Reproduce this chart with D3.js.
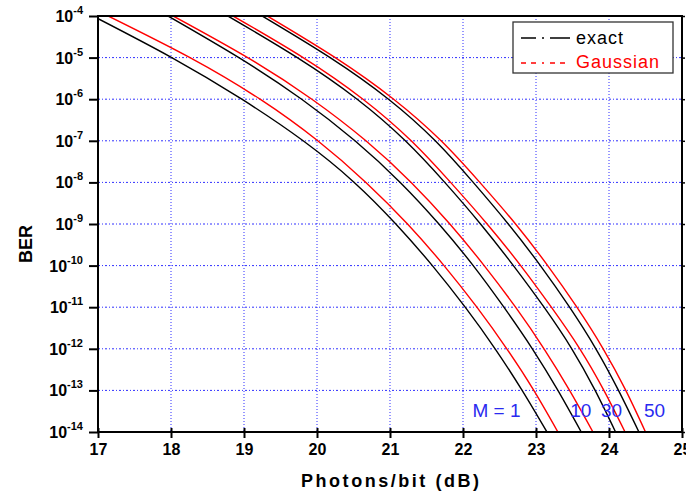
<!DOCTYPE html>
<html>
<head>
<meta charset="utf-8">
<script src="https://cdn.jsdelivr.net/npm/d3@7"></script>
<style>
  body { margin: 0; background: #fff; }
  text { font-family: Arial, "Liberation Sans", sans-serif; }
</style>
</head>
<body>
<div id="main-chart"></div>
<script>
// log10(BER) at each decade line
var berExp = [-4, -5, -6, -7, -8, -9, -10, -11, -12, -13, -14];

// Photons/bit (dB) where each curve crosses the decades above
var exactM1 = [16.93, 18.01, 18.97, 19.81, 20.51, 21.08, 21.58, 22.03, 22.44, 22.81, 23.15];
var gaussM1 = [17.14, 18.26, 19.22, 20.01, 20.67, 21.24, 21.74, 22.19, 22.6, 22.97, 23.3];
var exactM10 = [17.96, 18.93, 19.79, 20.52, 21.14, 21.67, 22.14, 22.56, 22.95, 23.3, 23.62];
var gaussM10 = [18.03, 19.05, 19.93, 20.67, 21.29, 21.82, 22.29, 22.72, 23.11, 23.46, 23.78];
var exactM30 = [18.78, 19.73, 20.55, 21.21, 21.75, 22.24, 22.69, 23.11, 23.49, 23.81, 24.09];
var gaussM30 = [18.85, 19.81, 20.63, 21.29, 21.83, 22.33, 22.79, 23.21, 23.6, 23.93, 24.22];
var exactM50 = [19.25, 20.18, 20.98, 21.62, 22.14, 22.62, 23.06, 23.46, 23.82, 24.13, 24.41];
var gaussM50 = [19.32, 20.25, 21.05, 21.7, 22.23, 22.72, 23.16, 23.56, 23.92, 24.23, 24.5];

// axis ticks
var xTicks = [17, 18, 19, 20, 21, 22, 23, 24, 25];
var yTickExp = [-4, -5, -6, -7, -8, -9, -10, -11, -12, -13, -14];

// curve labels along the bottom
var mLabels = ["M = 1", "10", "30", "50"];
var mLabelDb = [22.13, 23.47, 23.89, 24.48];

var legendNames = ["exact", "Gaussian"];

var series = [
  { x: exactM1, color: "#000000" },
  { x: gaussM1, color: "#ff0000" },
  { x: exactM10, color: "#000000" },
  { x: gaussM10, color: "#ff0000" },
  { x: exactM30, color: "#000000" },
  { x: gaussM30, color: "#ff0000" },
  { x: exactM50, color: "#000000" },
  { x: gaussM50, color: "#ff0000" }
];

var margin = { top: 16, right: 4, bottom: 66, left: 98 },
  width = 686 - margin.left - margin.right,
  height = 498 - margin.top - margin.bottom;

var xScale = d3.scaleLinear().domain([17, 25]).range([0, width]);
var yScale = d3.scaleLog().domain([1e-14, 1e-4]).range([height, 0]);

var svg = d3
  .select("#main-chart")
  .append("svg")
  .attr("width", 686)
  .attr("height", 498)
  .style("display", "block")
  .append("g")
  .attr("transform", "translate(" + margin.left + "," + margin.top + ")");

svg
  .append("defs")
  .append("clipPath")
  .attr("id", "plot-clip")
  .append("rect")
  .attr("width", width)
  .attr("height", height);

// blue dotted grid
svg
  .selectAll(".vgrid")
  .data(xTicks.slice(1, -1))
  .enter()
  .append("line")
  .attr("x1", function(d) { return xScale(d); })
  .attr("x2", function(d) { return xScale(d); })
  .attr("y1", 0)
  .attr("y2", height)
  .attr("stroke", "#2f2fff")
  .attr("stroke-dasharray", "1,2");

svg
  .selectAll(".hgrid")
  .data(yTickExp.slice(1, -1))
  .enter()
  .append("line")
  .attr("x1", 0)
  .attr("x2", width)
  .attr("y1", function(d) { return yScale(Math.pow(10, d)); })
  .attr("y2", function(d) { return yScale(Math.pow(10, d)); })
  .attr("stroke", "#2f2fff")
  .attr("stroke-dasharray", "2,2,1,2");

// curves
var lineGenerator = d3
  .line()
  .x(function(d) { return xScale(d[0]); })
  .y(function(d) { return yScale(Math.pow(10, d[1])); })
  .curve(d3.curveNatural);

svg
  .append("g")
  .attr("clip-path", "url(#plot-clip)")
  .selectAll(".curve")
  .data(series)
  .enter()
  .append("path")
  .attr("fill", "none")
  .attr("stroke", function(d) { return d.color; })
  .attr("stroke-width", 1.4)
  .attr("d", function(d) {
    return lineGenerator(d.x.map(function(v, i) { return [v, berExp[i]]; }));
  });

// bottom axis, ticks crossing the line
var xAxis = svg
  .append("g")
  .attr("transform", "translate(0," + height + ")")
  .call(d3.axisBottom(xScale).tickValues(xTicks).tickSize(6).tickPadding(6).tickFormat(d3.format("d")));
xAxis.select(".domain").remove();
xAxis.selectAll(".tick line").attr("y1", -4).attr("stroke-width", 2);
xAxis
  .selectAll(".tick text")
  .attr("font-size", "16px")
  .attr("font-weight", "bold")
  .attr("fill", "#000");

// left axis with 10^n labels
var yAxis = svg
  .append("g")
  .call(d3.axisLeft(yScale).tickValues(yTickExp.map(function(e) { return Math.pow(10, e); })).tickSize(9).tickFormat(""));
yAxis.select(".domain").remove();
yAxis.selectAll(".tick line").attr("stroke-width", 2);

svg
  .selectAll(".ylabel")
  .data(yTickExp)
  .enter()
  .append("text")
  .attr("x", -15)
  .attr("y", function(d) { return yScale(Math.pow(10, d)) + 6; })
  .attr("text-anchor", "end")
  .attr("font-weight", "bold")
  .attr("font-size", "16px")
  .each(function(d) {
    var t = d3.select(this);
    t.append("tspan").text("10");
    t.append("tspan").attr("dy", -8).attr("font-size", "11px").text(d);
  });

// right axis, short outer ticks
var rAxis = svg
  .append("g")
  .attr("transform", "translate(" + width + ",0)")
  .call(d3.axisRight(yScale).tickValues(yTickExp.map(function(e) { return Math.pow(10, e); })).tickSize(3).tickFormat(""));
rAxis.select(".domain").remove();
rAxis.selectAll(".tick line").attr("stroke-width", 1.5);

// frame
svg
  .append("rect")
  .attr("width", width)
  .attr("height", height)
  .attr("fill", "none")
  .attr("stroke", "#000")
  .attr("stroke-width", 2);

// axis titles
svg
  .append("text")
  .attr("x", width / 2)
  .attr("y", height + 55)
  .attr("text-anchor", "middle")
  .attr("font-size", "18px")
  .attr("font-weight", "bold")
  .attr("textLength", 178)
  .attr("lengthAdjust", "spacing")
  .text("Photons/bit (dB)");

svg
  .append("text")
  .attr("transform", "translate(" + (32 - margin.left) + "," + (244 - margin.top) + ") rotate(-90)")
  .attr("text-anchor", "middle")
  .attr("font-size", "18px")
  .attr("font-weight", "bold")
  .text("BER");

// M labels
svg
  .selectAll(".mlabel")
  .data(mLabels)
  .enter()
  .append("text")
  .attr("x", function(d, i) { return xScale(mLabelDb[i]); })
  .attr("y", height - 15)
  .attr("font-size", "19px")
  .attr("fill", "#2a2af0")
  .text(function(d) { return d; });

// legend
var legend = svg.append("g").attr("transform", "translate(" + (513 - margin.left) + "," + (22 - margin.top) + ")");
legend
  .append("rect")
  .attr("width", 160)
  .attr("height", 51)
  .attr("fill", "#fff")
  .attr("stroke", "#333")
  .attr("stroke-width", 1.3);

legend
  .append("line")
  .attr("x1", 8).attr("x2", 57)
  .attr("y1", 16).attr("y2", 16)
  .attr("stroke", "#000")
  .attr("stroke-width", 1.4)
  .attr("stroke-dasharray", "15,6,2,6,20");

legend
  .append("line")
  .attr("x1", 8).attr("x2", 57)
  .attr("y1", 41).attr("y2", 41)
  .attr("stroke", "#ff0000")
  .attr("stroke-width", 1.4)
  .attr("stroke-dasharray", "5,5,5,6,2,6,5,5,5");

legend
  .selectAll(".legend-text")
  .data(legendNames)
  .enter()
  .append("text")
  .attr("x", 63)
  .attr("y", function(d, i) { return 22 + i * 24; })
  .attr("font-size", "18px")
  .attr("letter-spacing", "1px")
  .attr("fill", function(d, i) { return i === 0 ? "#000" : "#ff0000"; })
  .text(function(d) { return d; });
</script>
</body>
</html>
